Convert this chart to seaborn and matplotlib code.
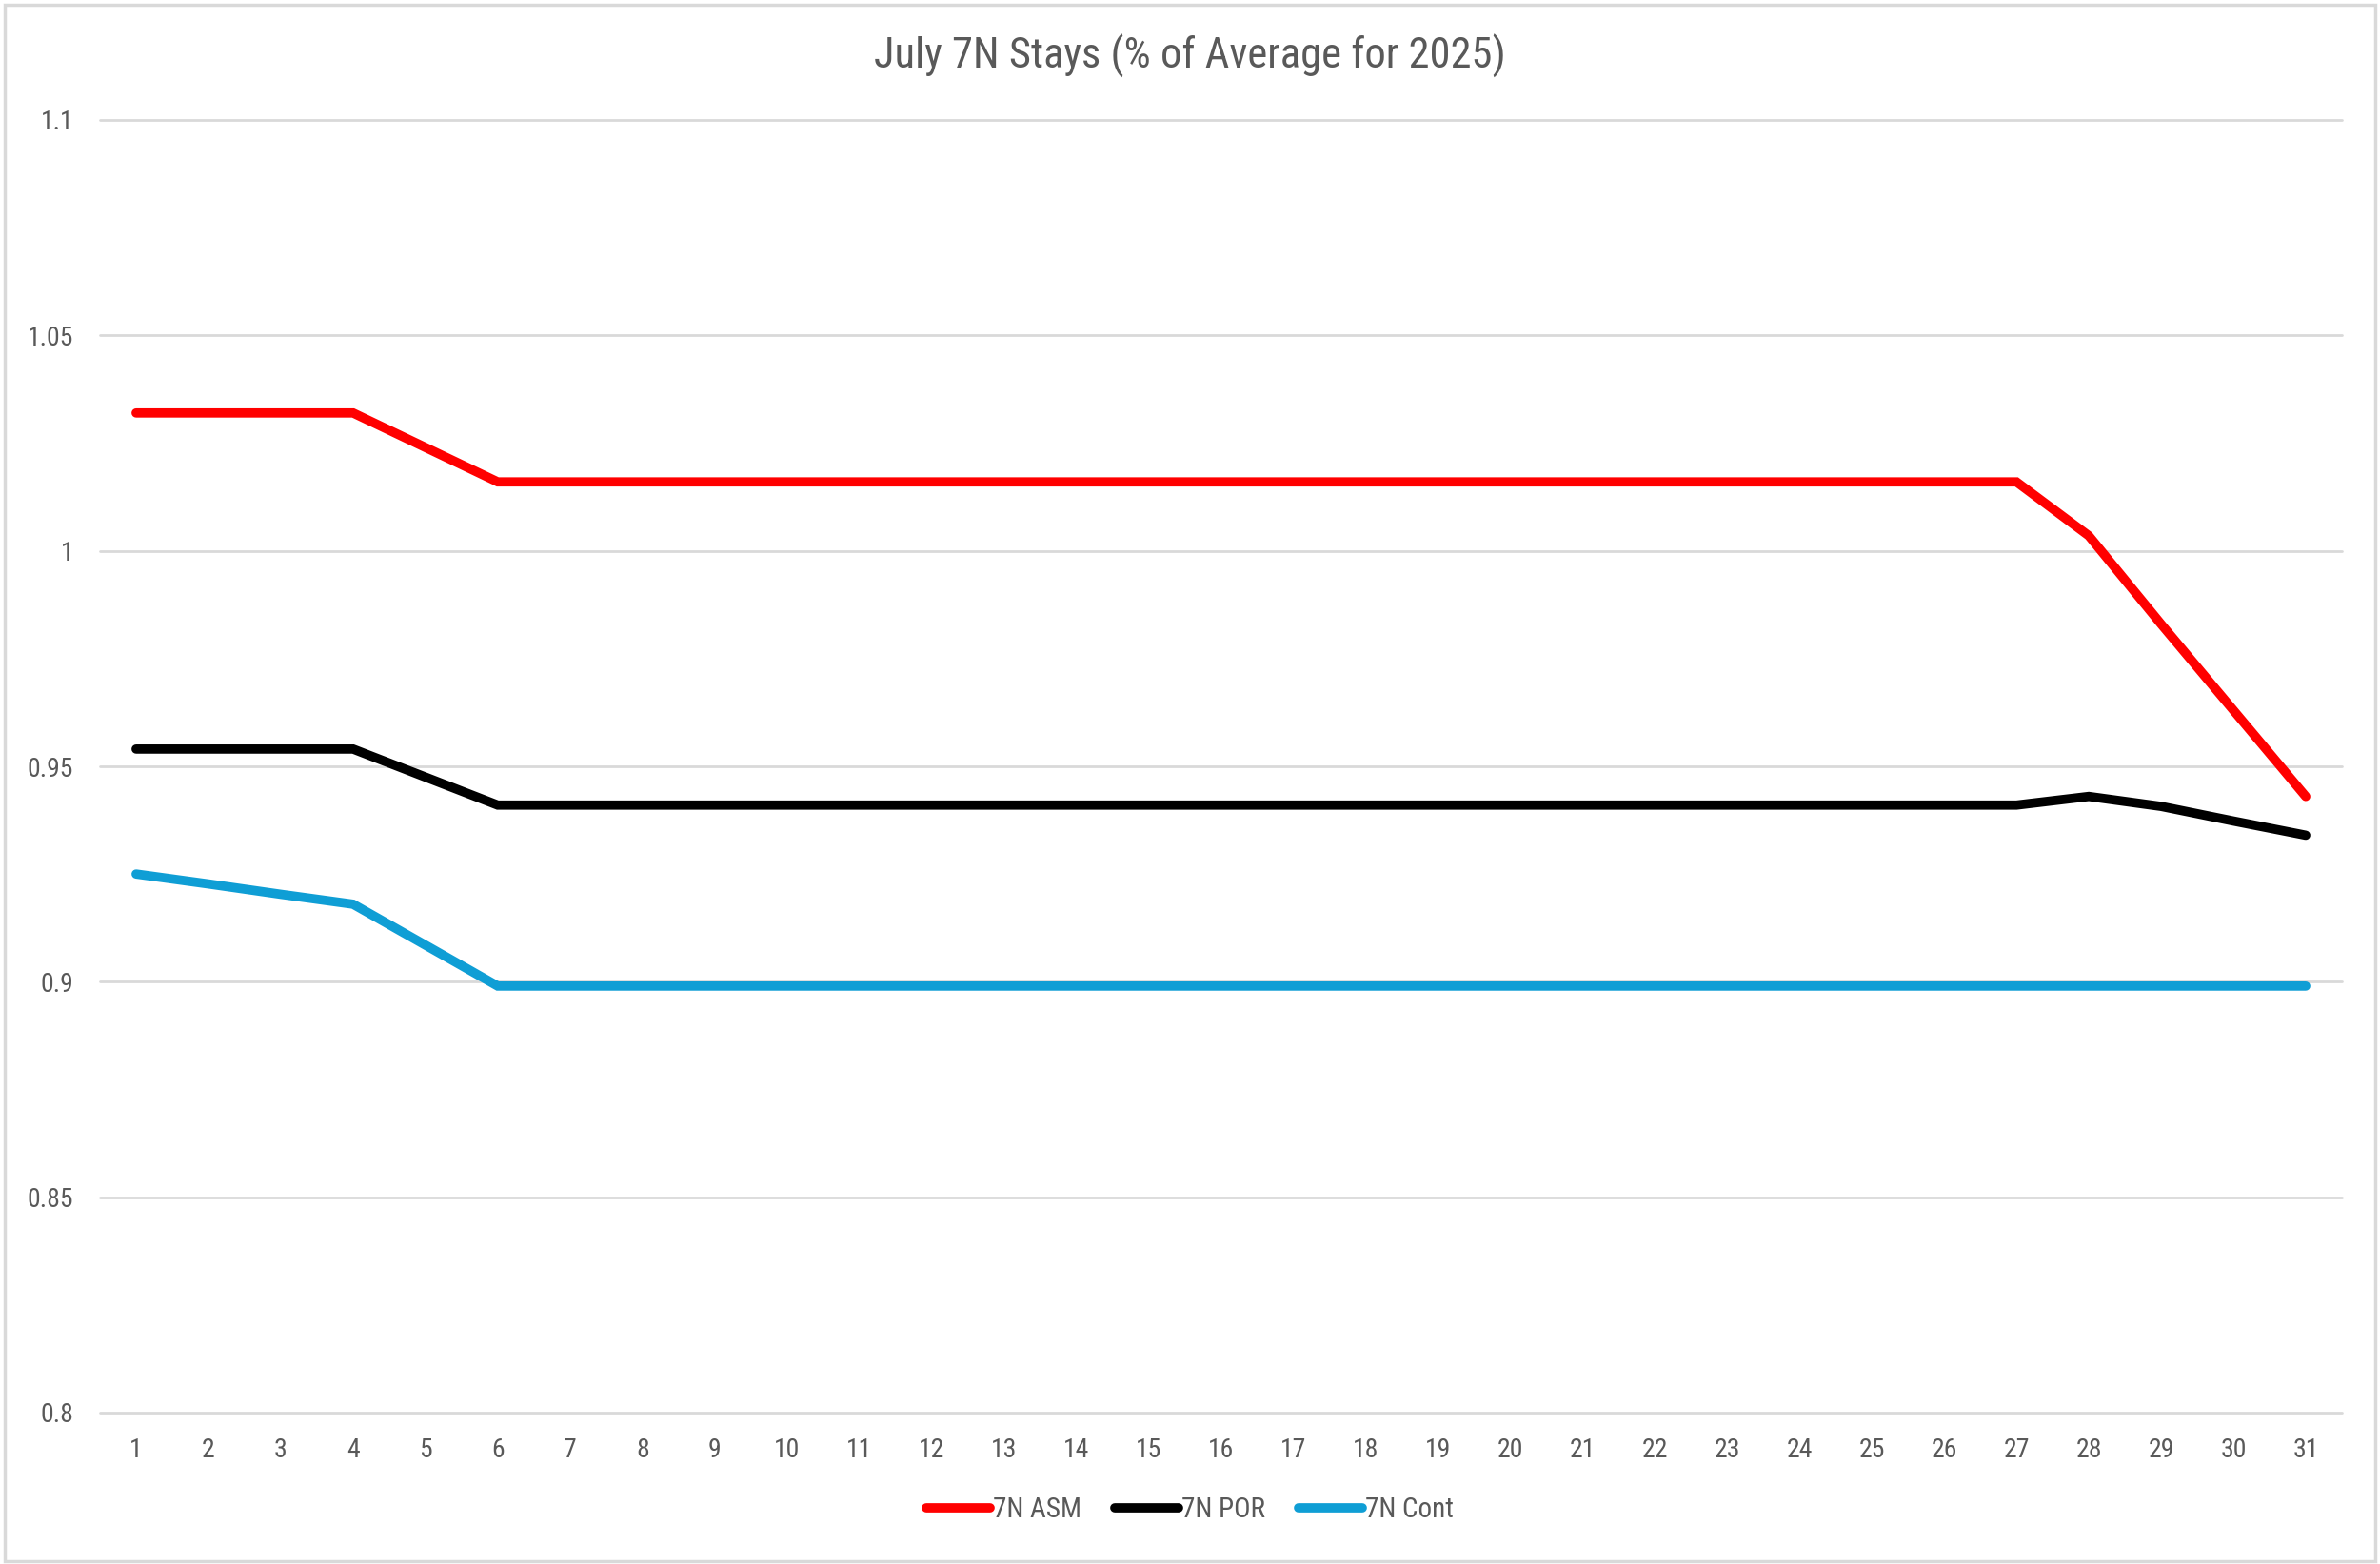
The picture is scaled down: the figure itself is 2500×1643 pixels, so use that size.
import numpy as np
import pandas as pd
import matplotlib
matplotlib.use("Agg")
import matplotlib.pyplot as plt
import seaborn as sns

days = list(range(1, 32))
asm = [1.032, 1.032, 1.032, 1.032, 1.024] + [1.016] * 22 + [1.0035, 0.983, 0.963, 0.943]
por = [0.954, 0.954, 0.954, 0.954, 0.9475] + [0.941] * 22 + [0.943, 0.9407, 0.9373, 0.934]
cont = [0.925, 0.9227, 0.9203, 0.918, 0.9085] + [0.899] * 26
series_names = ['7N ASM', '7N POR', '7N Cont']
colors = ['#ff0000', '#000000', '#0f9ed5']

df = pd.DataFrame({'day': days * 3,
                   'value': asm + por + cont,
                   'series': np.repeat(series_names, len(days))})

sns.set_style('white')
plt.rcParams['font.family'] = ['Roboto Condensed', 'Roboto', 'DejaVu Sans']
txt = '#595959'

fig = plt.figure(figsize=(25, 16.43), dpi=100)
ax = fig.add_axes([105 / 2500, 1 - 1484 / 1643, (2460 - 105) / 2500, (1484 - 126) / 1643])

sns.lineplot(data=df, x='day', y='value', hue='series', palette=colors,
             hue_order=series_names, linewidth=7, ax=ax, legend=False,
             solid_capstyle='round', solid_joinstyle='miter')

ax.set_xlim(0.5, 31.5)
ax.set_ylim(0.8, 1.1)
ax.set_xticks(days)
ax.set_xticklabels([str(d) for d in days])
yt = [0.8, 0.85, 0.9, 0.95, 1.0, 1.05, 1.1]
ax.set_yticks(yt)
ax.set_yticklabels(['0.8', '0.85', '0.9', '0.95', '1', '1.05', '1.1'])
ax.grid(axis='y', color='#d9d9d9', linewidth=2)
for gl in ax.get_ygridlines():
    gl.set_clip_on(False)
ax.set_axisbelow(True)
for s in ax.spines.values():
    s.set_visible(False)
ax.tick_params(axis='both', length=0, labelsize=20, colors=txt)
ax.tick_params(axis='x', pad=19)
ax.tick_params(axis='y', pad=20)
ax.set_xlabel('')
ax.set_ylabel('')

fig.text(0.5, 1 - 59 / 1643, 'July 7N Stays (% of Average for 2025)', ha='center',
         va='center', fontsize=32, color=txt)

handles = [plt.Line2D([], [], color=c, linewidth=7, solid_capstyle='round') for c in colors]
fig.legend(handles, series_names, loc='center', bbox_to_anchor=(0.5, 1 - 1586 / 1643),
           ncol=3, frameon=False, fontsize=21, labelcolor=txt, handlelength=2.3,
           handletextpad=0.1, columnspacing=1.2)

fig.patches.append(plt.Rectangle((0.002, 0.002), 0.996, 0.995, transform=fig.transFigure,
                                 fill=False, edgecolor='#d9d9d9', linewidth=2.5))

fig.savefig('out.png', dpi=100)
